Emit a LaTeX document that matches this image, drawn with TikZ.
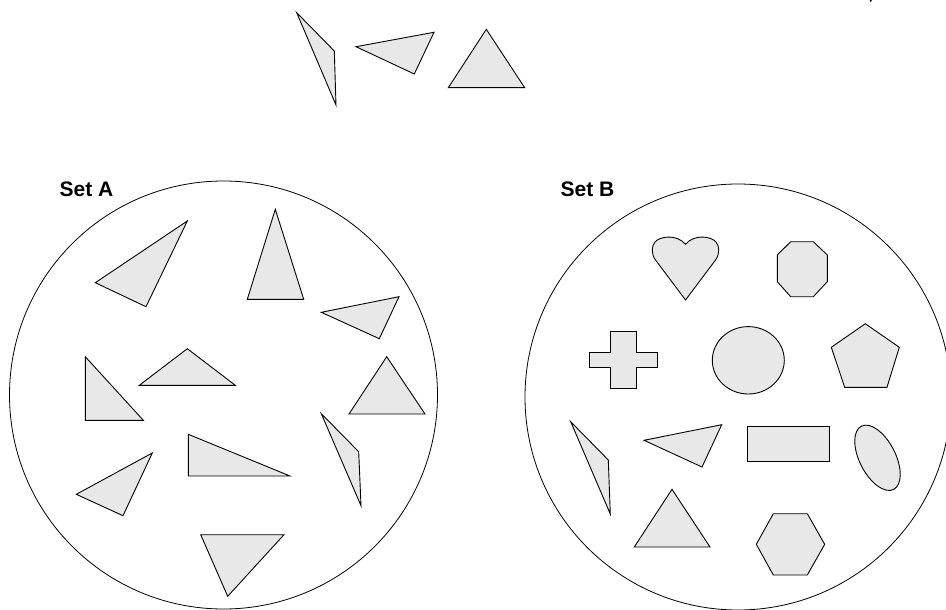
\documentclass[tikz,border=0pt]{standalone}
\usepackage{fontspec}
\setmainfont{Liberation Sans}
\definecolor{shapegray}{RGB}{232,232,232}
\tikzset{
  fig/.style={draw=black, fill=shapegray, line width=0.9pt},
  setcircle/.style={draw=black, line width=0.8pt},
  setlabel/.style={font=\bfseries\fontsize{21}{25}\selectfont, anchor=base west, inner sep=0pt}
}
\begin{document}
\begin{tikzpicture}[x=1pt,y=-1pt]
\useasboundingbox (0,0) rectangle (946,610);
\clip (0,0) rectangle (946,610);
% stray mark at top right
\fill[black] (870.7,0.8) circle [radius=1.1];
% top triangles
\draw[fig] (296.7,12.7) -- (334.3,51) -- (336,105) -- cycle;
\draw[fig] (356,46.7) -- (434,32.3) -- (414.3,74) -- cycle;
\draw[fig] (486.3,29.3) -- (448.3,87.7) -- (524.7,87.7) -- cycle;
% Set A
\draw[setcircle] (223.5,395) circle [radius=214];
\node[setlabel] (setA) at (59.5,196.5) {Set A};
\draw[fig] (95.3,282.7) -- (187.3,221) -- (146,306.7) -- cycle;
\draw[fig] (275.3,209.3) -- (247.3,299.3) -- (303.7,299.3) -- cycle;
\draw[fig] (321.3,312.3) -- (399,296.7) -- (379.3,338.7) -- cycle;
\draw[fig] (85.3,356.7) -- (85.3,420.3) -- (143.3,420.3) -- cycle;
\draw[fig] (187.3,348.7) -- (139.3,385.3) -- (235.3,385.3) -- cycle;
\draw[fig] (386.7,356.7) -- (349,414) -- (425,414) -- cycle;
\draw[fig] (188.3,434.3) -- (188.3,476) -- (290,476) -- cycle;
\draw[fig] (152.3,453) -- (76.3,494.3) -- (123,515.7) -- cycle;
\draw[fig] (321.3,413.7) -- (358.7,451.7) -- (361,505.7) -- cycle;
\draw[fig] (200.7,534.7) -- (284,534.7) -- (227.7,596.3) -- cycle;
% Set B
\draw[setcircle] (738,397) circle [radius=213];
\node[setlabel] (setB) at (560.5,196.5) {Set B};
% heart
\draw[fig] (685.5,300) -- (655.5,260) .. controls (651,254) and (651.5,246) .. (655,242)
  .. controls (660,236) and (677,234) .. (685.5,244.3)
  .. controls (694,234) and (711,236) .. (716,242)
  .. controls (719.5,246) and (720,254) .. (715.5,260) -- cycle;
% octagon
\draw[fig] (790.7,241.7) -- (813.3,241.7) -- (827.3,255) -- (827.3,281.7) -- (813.3,296.7) -- (790.7,296.7) -- (777.3,281.7) -- (777.3,255) -- cycle;
% cross
\draw[fig] (610,331.7) -- (636.7,331.7) -- (636.7,352.3) -- (657,352.3) -- (657,367.7) -- (636.7,367.7) -- (636.7,388.3) -- (610,388.3) -- (610,367.7) -- (589.3,367.7) -- (589.3,352.3) -- (610,352.3) -- cycle;
% circle
\draw[fig] (748.3,360.3) ellipse [x radius=36, y radius=33.7];
% pentagon
\draw[fig] (865.3,323.7) -- (899.3,347.3) -- (887,387.3) -- (844.7,387.3) -- (831.3,347.3) -- cycle;
% triangles in B
\draw[fig] (570.7,421.7) -- (608.3,460) -- (610.3,514) -- cycle;
\draw[fig] (644,440.3) -- (721.7,424.7) -- (702,467) -- cycle;
\draw[fig] (672,489.3) -- (634.3,547) -- (710,547) -- cycle;
% rectangle
\draw[fig] (747.3,426.3) rectangle (829.3,461.3);
% tilted ellipse
\draw[fig, shift={(877.5,457.8)}, rotate=-63] (0,0) ellipse [x radius=35.5, y radius=18];
% hexagon
\draw[fig] (773.3,513.7) -- (807.3,513.7) -- (824.7,544.3) -- (807.3,575) -- (773.3,575) -- (756.3,544.3) -- cycle;
\end{tikzpicture}
\end{document}
